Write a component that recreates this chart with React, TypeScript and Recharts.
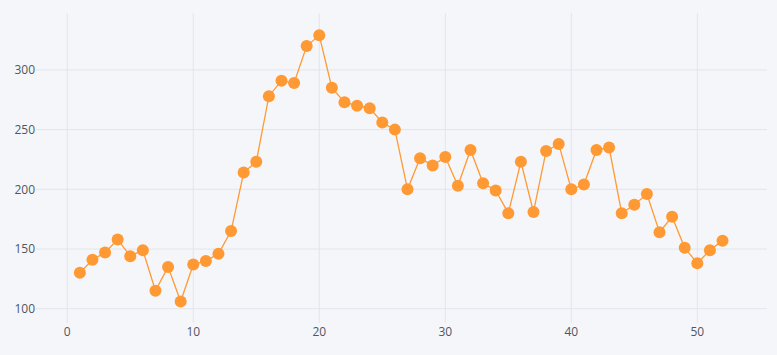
import React from "react";
import { LineChart, Line, XAxis, YAxis, ReferenceLine } from "recharts";

const xValues = [
  1, 2, 3, 4, 5, 6, 7, 8, 9, 10, 11, 12, 13, 14, 15, 16, 17, 18, 19, 20, 21, 22, 23, 24, 25, 26,
  27, 28, 29, 30, 31, 32, 33, 34, 35, 36, 37, 38, 39, 40, 41, 42, 43, 44, 45, 46, 47, 48, 49, 50, 51, 52,
];
const yValues = [
  130, 141, 147, 158, 144, 149, 115, 135, 106, 137, 140, 146, 165, 214, 223, 278, 291, 289, 320, 329,
  285, 273, 270, 268, 256, 250, 200, 226, 220, 227, 203, 233, 205, 199, 180, 223, 181, 232, 238, 200,
  204, 233, 235, 180, 187, 196, 164, 177, 151, 138, 149, 157,
];
const xTicks = [0, 10, 20, 30, 40, 50];
const yTicks = [100, 150, 200, 250, 300];

const data = xValues.map((x, i) => ({ x, y: yValues[i] }));

const tickStyle = { fill: "#4D5663", fontSize: 12, fontFamily: "'Open Sans', sans-serif" };
const gridColor = "#E1E5ED";

export default function App() {
  return (
    <div style={{ position: "absolute", left: 0, top: 0, width: 777, height: 355, background: "#F5F6F9" }}>
      <LineChart width={777} height={355} data={data} margin={{ top: 13, right: 10, bottom: 0, left: 0 }}>
        <XAxis
          dataKey="x"
          type="number"
          domain={[-2.48, 55.53]}
          allowDataOverflow
          ticks={xTicks}
          axisLine={false}
          tickLine={false}
          tickSize={0}
          tickMargin={4}
          height={32}
          tick={tickStyle}
          interval={0}
        />
        <YAxis
          type="number"
          domain={[88, 347.7]}
          allowDataOverflow
          ticks={yTicks}
          axisLine={false}
          tickLine={false}
          tickSize={0}
          tickMargin={1}
          width={36}
          tick={tickStyle}
          interval={0}
        />
        {xTicks.map((t) => (
          <ReferenceLine key={"vx" + t} x={t} stroke={gridColor} strokeWidth={1} />
        ))}
        {yTicks.map((t) => (
          <ReferenceLine key={"hy" + t} y={t} stroke={gridColor} strokeWidth={1} />
        ))}
        <Line
          dataKey="y"
          type="linear"
          stroke="#FF9933"
          strokeWidth={1.3}
          dot={{ r: 6, fill: "#FF9933", stroke: "none", fillOpacity: 1 }}
          activeDot={false}
          isAnimationActive={false}
        />
      </LineChart>
    </div>
  );
}
